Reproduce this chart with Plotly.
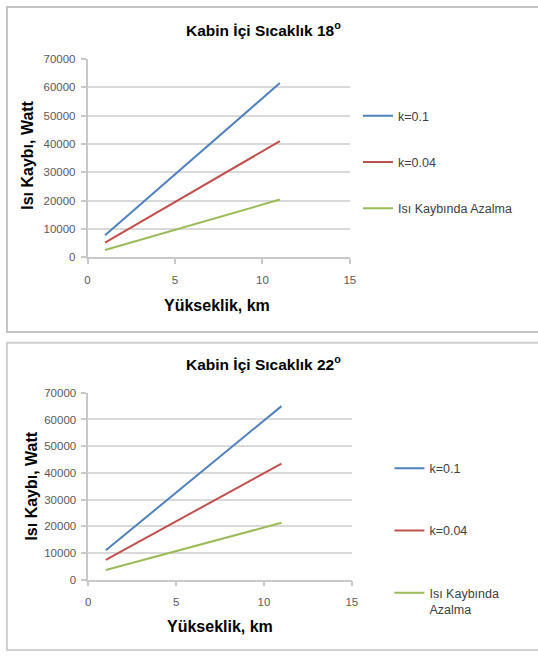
import plotly.graph_objects as go

W, H = 538, 657

# Altitude (km) and heat loss (W) for the two cabin temperatures
altitude_km = [1, 11]

loss_18_k01 = [7800, 61500]
loss_18_k004 = [5200, 41000]
loss_18_reduction = [2600, 20400]

loss_22_k01 = [11000, 65000]
loss_22_k004 = [7400, 43500]
loss_22_reduction = [3600, 21300]

series_names = ["k=0.1", "k=0.04", "Isı Kaybında Azalma"]
series_names_wrapped = ["k=0.1", "k=0.04", "Isı Kaybında<br>Azalma"]
series_colors = ["#4F81BD", "#C0504D", "#9BBB59"]

titles = ["Kabin İçi Sıcaklık 18<sup>o</sup>", "Kabin İçi Sıcaklık 22<sup>o</sup>"]
x_title = "Yükseklik, km"
y_title = "Isı Kaybı, Watt"

FONT = "Liberation Sans, Arial, sans-serif"


def px_x(p):
    return p / W


def px_y(p):
    return 1 - p / H


fig = go.Figure()

panels = [
    dict(vals=[loss_18_k01, loss_18_k004, loss_18_reduction], names=series_names,
         xa="x", ya="y", legend="legend"),
    dict(vals=[loss_22_k01, loss_22_k004, loss_22_reduction], names=series_names_wrapped,
         xa="x2", ya="y2", legend="legend2"),
]

for pi, p in enumerate(panels):
    for si, (vals, name, color) in enumerate(zip(p["vals"], p["names"], series_colors)):
        fig.add_trace(go.Scatter(
            x=altitude_km, y=vals, name=name, mode="lines",
            line=dict(color=color, width=2),
            xaxis=p["xa"], yaxis=p["ya"], legend=p["legend"],
            legendgroup=f"p{pi}s{si}", showlegend=True,
        ))

axis_common = dict(
    showline=True, linecolor="#c8c8c8", linewidth=1.5,
    ticks="outside", ticklen=5, tickcolor="#c8c8c8", tickwidth=1.5,
    tickfont=dict(family=FONT, size=11.5, color="#595959"),
    zeroline=False, fixedrange=True,
)

# plot-area pixel boxes: (left, right, top, bottom)
boxes = [(86, 352.7, 54, 256), (86.7, 354.7, 394, 584.3)]

layout_axes = {}
for i, (l, r, t, b) in enumerate(boxes):
    sx = "" if i == 0 else str(i + 1)
    layout_axes[f"xaxis{sx}"] = dict(
        axis_common, domain=[px_x(l), px_x(r)], range=[0, 15], dtick=5,
        tick0=0, showgrid=False, anchor=f"y{sx}", ticklabelstandoff=6,
    )
    layout_axes[f"yaxis{sx}"] = dict(
        axis_common, domain=[px_y(b), px_y(t)], range=[0, 70000], dtick=10000,
        tickformat="d", showgrid=True, gridcolor="#d9d9d9", gridwidth=1.5,
        anchor=f"x{sx}", ticklabelstandoff=3,
    )

annotations = []
# chart titles
for title, ty in zip(titles, [23, 364]):
    annotations.append(dict(
        text=f"<b>{title}</b>", x=px_x(265), y=px_y(ty), xref="paper", yref="paper",
        showarrow=False, xanchor="center", yanchor="middle",
        font=dict(family=FONT, size=15.5, color="#000000"),
    ))
# axis titles
for xt_y, yt_x, yt_y, xt_x in [(305, 25, 152, 218), (632, 29, 489, 221)]:
    annotations.append(dict(
        text=f"<b>{x_title}</b>", x=px_x(xt_x), y=px_y(xt_y), xref="paper", yref="paper",
        showarrow=False, xanchor="center", yanchor="middle",
        font=dict(family=FONT, size=16, color="#000000"),
    ))
    annotations.append(dict(
        text=f"<b>{y_title}</b>", x=px_x(yt_x), y=px_y(yt_y), xref="paper", yref="paper",
        showarrow=False, xanchor="center", yanchor="middle", textangle=-90,
        font=dict(family=FONT, size=16, color="#000000"),
    ))

# chart-area frames
shapes = [
    dict(type="rect", xref="paper", yref="paper", x0=px_x(4), x1=1.02,
         y0=px_y(332), y1=px_y(1), line=dict(color="#c4c4c4", width=2)),
    dict(type="rect", xref="paper", yref="paper", x0=px_x(4), x1=1.02,
         y0=px_y(656), y1=px_y(343), line=dict(color="#d0d0d0", width=2)),
]

legend_common = dict(
    font=dict(family=FONT, size=12.5, color="#404040"),
    bgcolor="rgba(0,0,0,0)", itemclick=False, itemdoubleclick=False,
    xanchor="left", yanchor="top", traceorder="grouped", itemwidth=30,
)

fig.update_layout(
    width=W, height=H,
    margin=dict(l=0, r=0, t=0, b=0),
    paper_bgcolor="white", plot_bgcolor="white",
    showlegend=True,
    legend=dict(legend_common, x=px_x(361), y=px_y(97), tracegroupgap=27),
    legend2=dict(legend_common, x=px_x(393), y=px_y(456), tracegroupgap=43, valign="top"),
    annotations=annotations, shapes=shapes,
    **layout_axes,
)

fig.write_html("out.html")
